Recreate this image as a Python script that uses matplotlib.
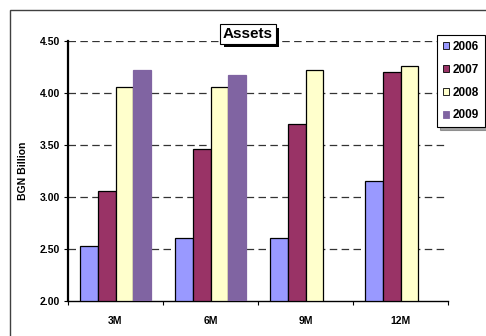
import numpy as np
import matplotlib
matplotlib.use("Agg")
import matplotlib.pyplot as plt
import matplotlib.patches as mpatches
import matplotlib.patheffects as pe

categories = ["3M", "6M", "9M", "12M"]
years = ["2006", "2007", "2008", "2009"]
v2006 = [2.53, 2.61, 2.61, 3.15]
v2007 = [3.06, 3.46, 3.70, 4.20]
v2008 = [4.06, 4.06, 4.22, 4.26]
v2009 = [4.22, 4.17, np.nan, np.nan]
series = [v2006, v2007, v2008, v2009]
colors = ["#9999FF", "#993366", "#FFFFCC", "#8064A2"]
edges = ["black", "black", "black", "#8064A2"]
yticks = [2.00, 2.50, 3.00, 3.50, 4.00, 4.50]

plt.rcParams['font.family'] = ['Liberation Sans', 'DejaVu Sans']
plt.rcParams['font.weight'] = 'bold'

fig = plt.figure(figsize=(4.86, 3.36), dpi=100)
fig.patch.set_facecolor("white")

# outer chart border
fig.patches.append(mpatches.Rectangle((10/486, -0.05), 1.0, 1 - 10/336 + 0.05,
                                      transform=fig.transFigure, fill=False,
                                      ec="#404040", lw=1.0))

ax = fig.add_axes([68/486, 35/336, 380/486, 260/336])
x = np.arange(len(categories))
w = 0.185
for i, (vals, c, e) in enumerate(zip(series, colors, edges)):
    vals = np.array(vals, dtype=float)
    ax.bar(x + (i - 1.5) * w, vals - 2.0, bottom=2.0, width=w, color=c,
           edgecolor=e, linewidth=0.9, zorder=3, label=years[i])

ax.set_xlim(-0.5, len(categories) - 0.5)
ax.set_ylim(2.0, 4.5)
ax.set_yticks(yticks)
ax.set_yticklabels([f"{t:.2f}" for t in yticks], fontsize=7.5, fontweight='bold')
ax.set_xticks(x)
ax.set_xticklabels(categories, fontsize=7.5, fontweight='bold')
ax.set_xticks(np.arange(len(categories) + 1) - 0.5, minor=True)
ax.tick_params(axis='x', which='major', length=0, pad=11)
ax.tick_params(axis='x', which='minor', length=3, width=0.8, direction='out')
ax.tick_params(axis='y', length=3, width=0.8, pad=3)
for t in yticks[1:]:
    ax.axhline(t, color="#333333", lw=0.9, ls=(0, (6, 3.5)), zorder=1)
ax.spines['top'].set_visible(False)
ax.spines['right'].set_visible(False)
ax.spines['left'].set_linewidth(1.6)
ax.spines['bottom'].set_linewidth(1.0)
ax.set_ylabel("BGN Billion", fontsize=7.5, fontweight='bold', labelpad=8)

handles = [mpatches.Rectangle((0, 0), 1, 1, fc=c, ec=('black' if i < 3 else c), lw=0.6)
           for i, c in enumerate(colors)]
leg = fig.legend(handles, years, loc='upper left', bbox_to_anchor=(437/486, 1 - 35/336),
                 bbox_transform=fig.transFigure, fontsize=8.5, frameon=True,
                 fancybox=False, shadow=True, handlelength=0.55, handleheight=0.55,
                 handletextpad=0.25, labelspacing=0.92, borderpad=0.5, borderaxespad=0)
leg.get_frame().set_edgecolor("black")
leg.get_frame().set_linewidth(0.8)
for t in leg.get_texts():
    t.set_fontweight('bold')

title = fig.text(248/486, 1 - 34/336, "Assets", ha='center', va='center',
                 fontsize=11, fontweight='bold',
                 bbox=dict(boxstyle='square,pad=0.18', fc='white', ec='black', lw=0.8))
title.get_bbox_patch().set_path_effects([
    pe.SimplePatchShadow(offset=(2.5, -2.5), shadow_rgbFace='black', alpha=1.0),
    pe.Normal()])

fig.savefig("out.png", dpi=100)
